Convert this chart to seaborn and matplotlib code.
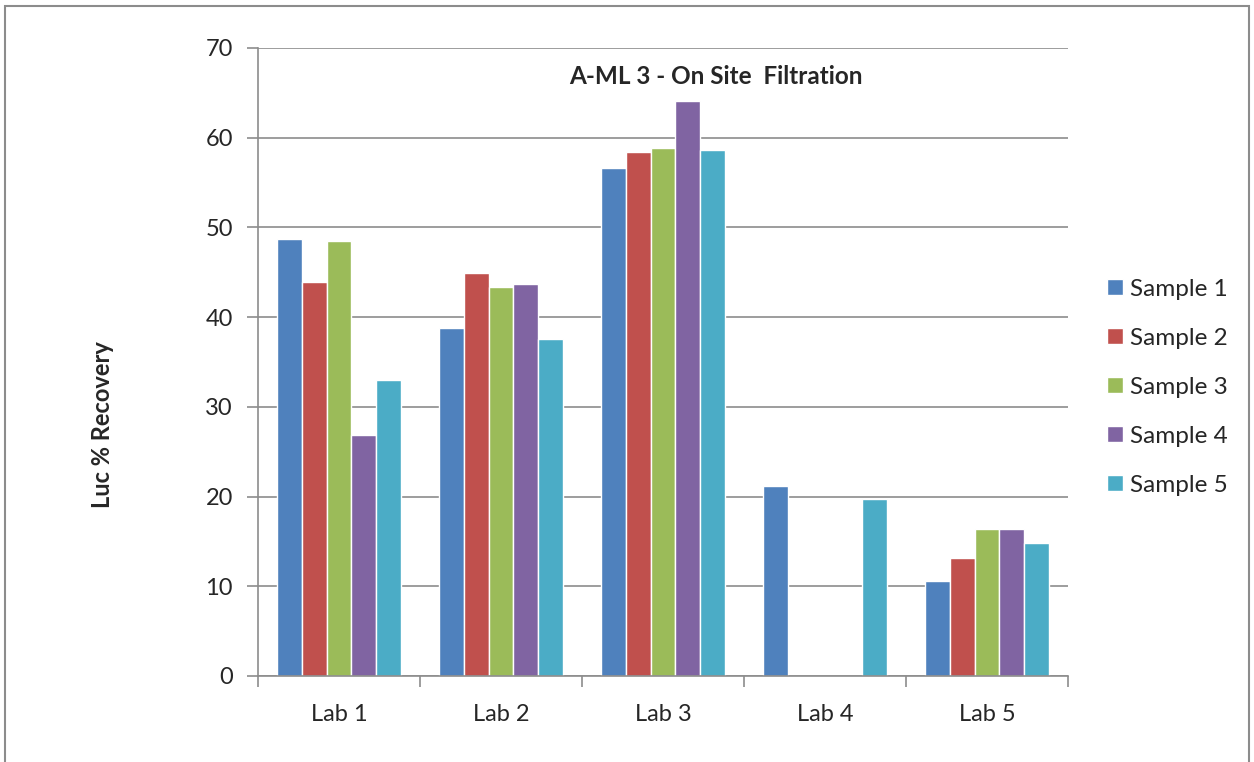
import pandas as pd
import matplotlib.pyplot as plt
import matplotlib.patches as mpatches
import seaborn as sns

# Data
labs = ["Lab 1", "Lab 2", "Lab 3", "Lab 4", "Lab 5"]
samples = ["Sample 1", "Sample 2", "Sample 3", "Sample 4", "Sample 5"]
sample_1 = [48.7, 38.8, 56.6, 21.2, 10.6]
sample_2 = [43.9, 44.9, 58.4, 0.0, 13.1]
sample_3 = [48.5, 43.4, 58.9, 0.0, 16.4]
sample_4 = [26.9, 43.7, 64.1, 0.0, 16.4]
sample_5 = [33.0, 37.6, 58.6, 19.7, 14.8]
colors = ["#4F81BD", "#C0504D", "#9BBB59", "#8064A2", "#4BACC6"]

series = [sample_1, sample_2, sample_3, sample_4, sample_5]
rows = []
for name, vals in zip(samples, series):
    for lab, v in zip(labs, vals):
        rows.append({"Lab": lab, "Sample": name, "Recovery": v})
df = pd.DataFrame(rows)

sns.set_style("white")
plt.rcParams["font.family"] = ["Lato", "DejaVu Sans"]

fig = plt.figure(figsize=(12.54, 7.62), dpi=100)
ax = fig.add_axes([258 / 1254, 86 / 762, 810 / 1254, 628 / 762])

sns.barplot(
    data=df, x="Lab", y="Recovery", hue="Sample",
    palette=colors, width=0.77, saturation=1, ax=ax, errorbar=None,
)

ax.set_ylim(0, 70)
ax.set_xlim(-0.5, 4.5)
ax.set_yticks(range(0, 71, 10))
ax.yaxis.grid(True, color="#8c8c8c", linewidth=1.2)
ax.set_axisbelow(True)
ax.set_xlabel("")
ax.set_ylabel("")
for s in ["top", "right"]:
    ax.spines[s].set_visible(False)
for s in ["left", "bottom"]:
    ax.spines[s].set_color("#8c8c8c")
    ax.spines[s].set_linewidth(1.2)

ax.tick_params(axis="y", left=True, length=8, width=1.2, color="#8c8c8c",
               labelsize=17, pad=10)
ax.set_xticks([i - 0.5 for i in range(6)], minor=True)
ax.tick_params(axis="x", which="major", bottom=False, labelsize=17, pad=17)
ax.tick_params(axis="x", which="minor", bottom=True, length=8, width=1.2,
               color="#8c8c8c")

ax.text(0.565, 0.955, "A-ML 3 - On Site  Filtration", transform=ax.transAxes,
        ha="center", va="center", fontsize=17.5, fontweight="bold")

fig.text(103 / 1254, 1 - 425 / 762, "Luc % Recovery", rotation=90,
         ha="center", va="center", fontsize=17, fontweight="bold")

handles, _ = ax.get_legend_handles_labels()
ax.legend(handles, samples, loc="center left", bbox_to_anchor=(1.048, 0.46),
          frameon=False, fontsize=17.5, handlelength=0.65, handleheight=0.65,
          labelspacing=1.15, handletextpad=0.3, borderpad=0,
          borderaxespad=0)

fig.patches.append(mpatches.Rectangle(
    (5 / 1254, -0.02), 1244 / 1254, 1.02 - 6 / 762, transform=fig.transFigure,
    fill=False, edgecolor="#8c8c8c", linewidth=1.5))

plt.savefig("out.png", dpi=100)
